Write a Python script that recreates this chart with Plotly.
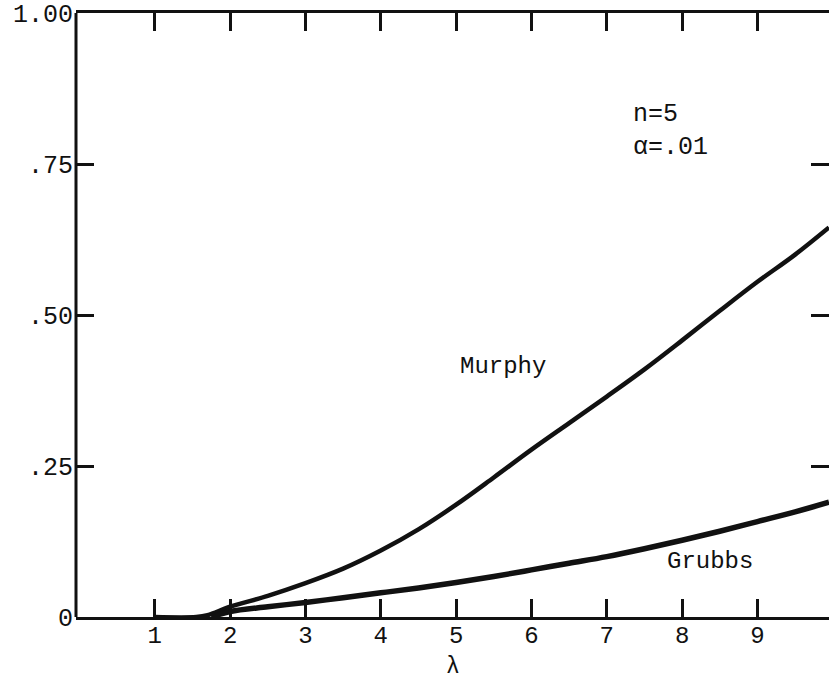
import plotly.graph_objects as go

# Power curves for n=5, alpha=.01
lam_murphy = [1.0, 1.55, 1.7, 2.0, 2.5, 3.0, 3.5, 4.0, 4.5, 5.0, 5.5, 6.0, 6.5, 7.0, 7.5, 8.0, 8.5, 9.0, 9.5, 9.95]
murphy = [0.0, 0.0, 0.003, 0.017, 0.035, 0.056, 0.080, 0.110, 0.145, 0.186, 0.231, 0.277, 0.321, 0.365, 0.41, 0.458, 0.507, 0.555, 0.60, 0.645]

lam_grubbs = [1.75, 2.0, 2.5, 3.0, 3.5, 4.0, 4.5, 5.0, 5.5, 6.0, 6.5, 7.0, 7.5, 8.0, 8.5, 9.0, 9.5, 9.95]
grubbs = [0.0, 0.009, 0.017, 0.024, 0.032, 0.04, 0.048, 0.057, 0.067, 0.078, 0.089, 0.10, 0.113, 0.127, 0.142, 0.158, 0.174, 0.19]

x_ticks = [1, 2, 3, 4, 5, 6, 7, 8, 9]
x_tick_labels = ["1", "2", "3", "4", "5", "6", "7", "8", "9"]
y_ticks = [0, 0.25, 0.5, 0.75, 1.0]
y_tick_labels = ["0", ".25", ".50", ".75", "1.00"]

FONT = "Liberation Mono"
INK = "#111111"

fig = go.Figure()
fig.add_trace(go.Scatter(x=lam_murphy, y=murphy, mode="lines",
                         line=dict(color=INK, width=4.5, shape="spline", smoothing=1.0),
                         hoverinfo="skip", showlegend=False))
fig.add_trace(go.Scatter(x=lam_grubbs, y=grubbs, mode="lines",
                         line=dict(color=INK, width=5.5, shape="spline", smoothing=1.0),
                         hoverinfo="skip", showlegend=False))

# curve labels and parameters
fig.add_annotation(x=5.62, y=0.414, text="Murphy", showarrow=False,
                   font=dict(family=FONT, size=24, color=INK))
fig.add_annotation(x=8.37, y=0.092, text="Grubbs", showarrow=False,
                   font=dict(family=FONT, size=24, color=INK))
fig.add_annotation(x=7.32, y=0.805, text="n=5<br>α=.01", showarrow=False,
                   xanchor="left", align="left",
                   font=dict(family=FONT, size=25, color=INK))

# x-axis title, set below the tick labels
fig.add_annotation(xref="paper", yref="paper", x=0.5, y=0, yanchor="bottom",
                   yshift=-64, borderpad=0, text="λ", showarrow=False,
                   font=dict(family=FONT, size=23, color=INK))

# left frame edge
fig.add_shape(type="line", xref="paper", yref="paper", x0=0, x1=0, y0=0, y1=1,
              line=dict(color=INK, width=3))

fig.update_layout(
    width=829, height=682,
    margin=dict(l=76, r=0, t=13, b=65),
    paper_bgcolor="white", plot_bgcolor="white",
    xaxis=dict(
        range=[-0.046, 9.95],
        tickvals=x_ticks, ticktext=x_tick_labels,
        ticks="inside", ticklen=18, tickwidth=2.5, tickcolor=INK,
        showline=True, linewidth=3, linecolor=INK, mirror="ticks",
        showgrid=False, zeroline=False, automargin=False,
        ticklabelstandoff=-6,
        tickfont=dict(family=FONT, size=24, color=INK),
    ),
    yaxis=dict(
        range=[0, 1.0],
        tickvals=y_ticks, ticktext=y_tick_labels,
        ticks="inside", ticklen=18, tickwidth=2.5, tickcolor=INK,
        showline=False, mirror="ticks",
        showgrid=False, zeroline=False, automargin=False,
        ticklabelstandoff=2,
        tickfont=dict(family=FONT, size=25, color=INK),
    ),
)

fig.write_html("out.html")
